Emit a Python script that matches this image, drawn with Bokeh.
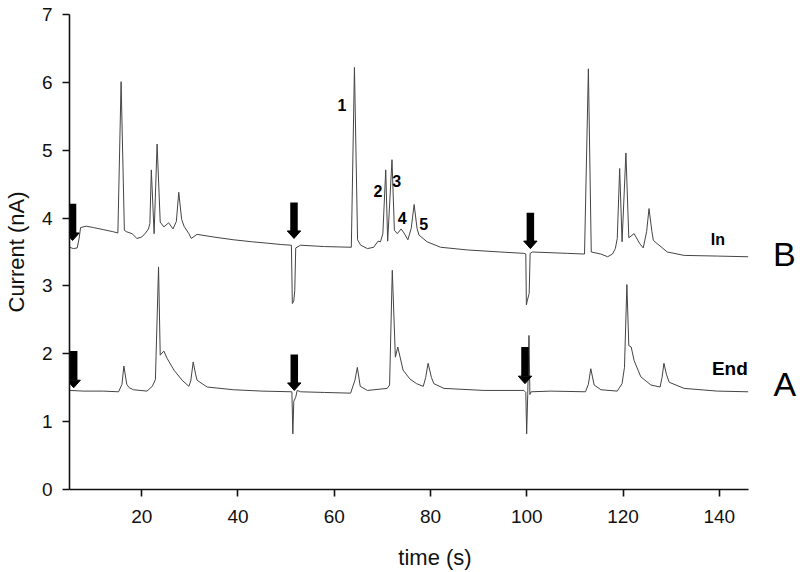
from bokeh.plotting import figure
from bokeh.models import Range1d, FixedTicker, ColumnDataSource
from bokeh.core.properties import value
from bokeh.embed import file_html
from bokeh.resources import INLINE

# ---- data ----
time_in = [5.0, 5.8, 6.6, 7.0, 7.3, 8.5, 10.0, 12.0, 14.0, 15.05, 15.72, 16.4, 16.8, 18.0, 19.0,
           20.0, 20.8, 21.4, 21.7, 22.0, 22.58, 23.2, 23.85, 24.6, 25.6, 26.5, 27.2, 27.7, 28.3,
           28.8, 29.8, 30.3, 31.5, 35.0, 39.1, 43.0, 46.1, 49.0, 51.1, 51.3, 51.6, 51.8, 52.0,
           53.0, 58.0, 63.55, 64.2, 64.85, 65.5, 66.9, 68.2, 69.1, 69.6, 70.1, 70.7, 71.1, 72.0,
           72.5, 73.1, 73.9, 74.5, 75.3, 76.0, 76.6, 77.2, 77.6, 79.3, 82.1, 87.7, 94.6, 99.4,
           99.8, 99.92, 100.1, 100.5, 100.7, 101.2, 108.4, 112.0, 112.8, 113.4, 115.4, 116.8,
           117.8, 118.4, 118.8, 119.3, 119.8, 120.6, 121.2, 122.3, 123.5, 124.2, 124.9, 125.4,
           126.0, 126.3, 129.2, 132.7, 139.6, 146.0]
current_in = [3.57, 3.55, 3.56, 3.70, 3.86, 3.88, 3.86, 3.83, 3.80, 3.78, 6.01, 3.82, 3.80, 3.77,
              3.70, 3.72, 3.78, 3.84, 3.92, 4.71, 3.77, 5.09, 3.94, 3.87, 3.93, 3.84, 3.95, 4.38,
              3.98, 3.88, 3.77, 3.70, 3.76, 3.72, 3.68, 3.65, 3.63, 3.61, 3.60, 2.74, 2.78, 2.93,
              3.56, 3.60, 3.58, 3.57, 6.22, 3.68, 3.60, 3.55, 3.57, 3.66, 3.65, 3.77, 4.71, 3.66,
              4.86, 3.82, 3.77, 3.84, 3.78, 3.68, 3.85, 4.20, 3.85, 3.75, 3.65, 3.57, 3.53, 3.50,
              3.48, 3.47, 2.72, 2.78, 2.89, 3.48, 3.50, 3.48, 3.47, 6.20, 3.50, 3.47, 3.43, 3.47,
              3.55, 3.70, 4.73, 3.65, 4.96, 3.71, 3.77, 3.62, 3.56, 3.80, 4.14, 3.80, 3.67, 3.50,
              3.45, 3.44, 3.43]

time_end = [5.0, 8.0, 12.0, 15.2, 15.9, 16.3, 16.9, 17.4, 18.3, 21.1, 22.2, 22.85, 23.5, 23.85,
            24.6, 25.3, 26.7, 28.4, 29.8, 30.2, 30.7, 31.2, 31.5, 33.6, 39.1, 45.0, 51.2, 51.4,
            51.6, 52.0, 52.3, 53.0, 58.0, 63.4, 64.3, 64.8, 65.4, 66.9, 71.0, 71.5, 72.06, 72.7,
            73.2, 74.3, 75.7, 77.1, 78.5, 79.0, 79.5, 80.2, 80.7, 82.8, 91.1, 99.4, 99.8, 99.98,
            100.2, 100.46, 100.65, 100.9, 105.0, 112.2, 112.8, 113.3, 114.0, 115.4, 118.8, 119.8,
            120.3, 120.8, 121.2, 121.7, 122.3, 123.7, 125.8, 127.7, 128.1, 128.5, 129.0, 129.6,
            132.7, 139.6, 146.0]
current_end = [1.46, 1.45, 1.45, 1.44, 1.55, 1.82, 1.55, 1.50, 1.47, 1.45, 1.52, 1.62, 3.28, 1.98,
               2.04, 1.93, 1.76, 1.61, 1.52, 1.60, 1.88, 1.70, 1.61, 1.51, 1.47, 1.45, 1.44, 0.82,
               1.30, 1.36, 1.46, 1.44, 1.43, 1.42, 1.61, 1.80, 1.52, 1.46, 1.49, 1.54, 3.23, 1.95,
               2.10, 1.76, 1.63, 1.56, 1.52, 1.65, 1.86, 1.65, 1.56, 1.49, 1.46, 1.46, 1.43, 0.82,
               1.40, 2.27, 1.40, 1.44, 1.45, 1.44, 1.55, 1.78, 1.54, 1.47, 1.45, 1.56, 1.80, 3.02,
               2.12, 2.10, 1.90, 1.66, 1.54, 1.51, 1.65, 1.86, 1.70, 1.58, 1.49, 1.45, 1.44]

arrow_x = [5.63, 51.64, 100.75, 5.87, 51.7, 99.63]
arrow_top = [4.21, 4.23, 4.08, 2.04, 1.99, 2.10]
arrow_tip = [3.67, 3.70, 3.55, 1.50, 1.46, 1.56]

peak_labels = ["1", "2", "3", "4", "5"]
peak_label_x = [61.6, 69.1, 73.0, 74.1, 78.6]
peak_label_y = [5.67, 4.40, 4.55, 4.00, 3.91]

trace_names = ["In", "End"]
trace_name_x = [139.7, 142.2]
trace_name_y = [3.69, 1.79]
trace_name_size = ["16px", "19px"]

panel_letters = ["B", "A"]
panel_letter_x = [153.5, 153.6]
panel_letter_y = [3.47, 1.55]

x_ticks = [20, 40, 60, 80, 100, 120, 140]
y_ticks = [0, 1, 2, 3, 4, 5, 6, 7]

# ---- layout ----
W, H = 800, 572
BL, BR, BT, BB = 69, 0, 14, 83
X0, X_AXIS_END, X1, Y0, Y1 = 5, 146, 156.87, 0, 7
FONT = "Liberation Sans"

p = figure(width=W, height=H, output_backend="svg", toolbar_location=None,
           x_range=Range1d(X0, X1), y_range=Range1d(Y0, Y1),
           min_border_left=BL, min_border_right=BR, min_border_top=BT, min_border_bottom=BB)
p.outline_line_color = None
p.grid.visible = False
p.background_fill_color = "white"
p.border_fill_color = "white"

for ax, ticks in ((p.xaxis, x_ticks), (p.yaxis, y_ticks)):
    ax.ticker = FixedTicker(ticks=ticks)
    ax.minor_tick_line_color = None
    ax.major_tick_in = 0
    ax.major_tick_out = 7
    ax.axis_line_width = 1.6
    ax.major_tick_line_width = 1.6
    ax.axis_line_color = "#111111"
    ax.major_tick_line_color = "#111111"
    ax.major_label_text_font = FONT
    ax.major_label_text_font_size = "19px"
    ax.major_label_text_color = "#111111"
    ax.axis_label_text_font = FONT
    ax.axis_label_text_font_size = "22px"
    ax.axis_label_text_font_style = "normal"
    ax.axis_label_text_color = "#111111"

p.xaxis.bounds = (X0, X_AXIS_END)
p.xaxis.axis_label = "time (s)"
p.yaxis.axis_label = "Current (nA)"
p.xaxis.major_label_standoff = 13
p.yaxis.major_label_standoff = 10
p.xaxis.axis_label_standoff = 19
p.yaxis.axis_label_standoff = 10

# traces
p.line(time_in, current_in, line_color="#444444", line_width=1)
p.line(time_end, current_end, line_color="#444444", line_width=1)

# arrows: shaft + head, head sizes given in pixels converted to data units
fw = W - BL - BR
fh = H - BT - BB
px_x = (X1 - X0) / fw
px_y = (Y1 - Y0) / fh
head_half_w = 6.7 * px_x
head_len = 7.5 * px_y
head_base = [t + head_len for t in arrow_tip]
p.segment(x0=arrow_x, y0=arrow_top, x1=arrow_x, y1=head_base,
          line_color="black", line_width=7.5, line_cap="butt")
p.patches(xs=[[x - head_half_w, x + head_half_w, x] for x in arrow_x],
          ys=[[b, b, t] for b, t in zip(head_base, arrow_tip)],
          fill_color="black", line_color="black", line_width=1)

# peak numbers
p.text(x=peak_label_x, y=peak_label_y, text=peak_labels, text_font=value(FONT),
       text_font_size="16px", text_font_style="bold", text_color="black",
       text_align="center", text_baseline="middle")

# trace names
src = ColumnDataSource(dict(x=trace_name_x, y=trace_name_y, t=trace_names, s=trace_name_size))
p.text(x="x", y="y", text="t", text_font_size="s", source=src, text_font=value(FONT),
       text_font_style="bold", text_color="black", text_align="center", text_baseline="middle")

# panel letters (right of the axis end, inside the frame)
p.text(x=panel_letter_x, y=panel_letter_y, text=panel_letters, text_font=value(FONT),
       text_font_size="34px", text_color="black", text_align="center", text_baseline="middle")

open("out.html", "w").write(file_html(p, INLINE))
